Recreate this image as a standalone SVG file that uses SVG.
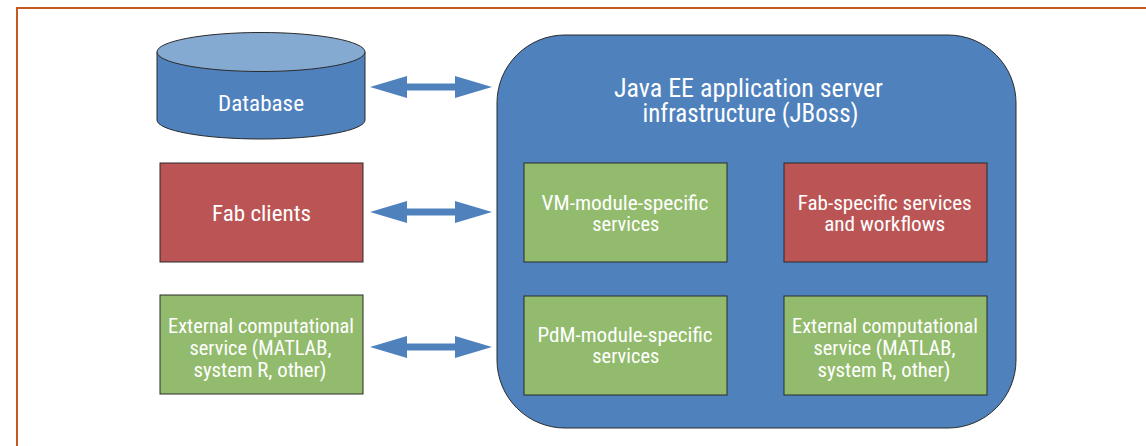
<svg xmlns="http://www.w3.org/2000/svg" width="1146" height="446" viewBox="0 0 1146 446">
<defs>
<style>
.t{font-family:"Liberation Sans Narrow","Roboto Condensed","Liberation Sans",sans-serif;fill:#fff;text-anchor:middle;font-size:21px}
.tb{font-size:25px}
.big{font-size:22px}
.box{stroke:#2b2b2b;stroke-width:1}
.g{fill:#93BB6D}
.r{fill:#BB5555}
.b{fill:#4F81BD}
.arr{fill:#4F81BD}
</style>
</defs>
<rect width="1146" height="446" fill="#fff"/>
<rect x="17" y="8" width="1140" height="450" fill="none" stroke="#C55A1E" stroke-width="2"/>
<g id="database">
<path class="box b" d="M157,52 L157,120 A104,19 0 0 0 365,120 L365,52"/>
<ellipse class="box" cx="261" cy="52" rx="104" ry="19.5" fill="#84AAD2"/>
<text class="t big" x="261" y="111" textLength="86" lengthAdjust="spacingAndGlyphs">Database</text>
</g>
<g id="fab-clients">
<rect class="box r" x="160" y="163" width="203" height="99"/>
<text class="t big" x="261.5" y="221" textLength="99" lengthAdjust="spacingAndGlyphs">Fab clients</text>
</g>
<g id="external-left">
<rect class="box g" x="160" y="295" width="203" height="99"/>
<text class="t" x="261" y="333" textLength="186" lengthAdjust="spacingAndGlyphs">External computational</text>
<text class="t" x="260.5" y="355" textLength="142" lengthAdjust="spacingAndGlyphs">service (MATLAB,</text>
<text class="t" x="260" y="377" textLength="133" lengthAdjust="spacingAndGlyphs">system R, other)</text>
</g>
<g id="server">
<rect class="box b" x="497" y="35" width="519" height="393" rx="68" ry="68"/>
<text class="t tb" x="748.5" y="96.5" textLength="269" lengthAdjust="spacingAndGlyphs">Java EE application server</text>
<text class="t tb" x="750.5" y="121.5" textLength="216" lengthAdjust="spacingAndGlyphs">infrastructure (JBoss)</text>
</g>
<g id="vm">
<rect class="box g" x="524" y="163" width="203" height="99"/>
<text class="t" x="625" y="209.5" textLength="167" lengthAdjust="spacingAndGlyphs">VM-module-specific</text>
<text class="t" x="625.8" y="231" textLength="67" lengthAdjust="spacingAndGlyphs">services</text>
</g>
<g id="fab-services">
<rect class="box r" x="784" y="163" width="203" height="99"/>
<text class="t" x="884.7" y="209.5" textLength="174" lengthAdjust="spacingAndGlyphs">Fab-specific services</text>
<text class="t" x="884.7" y="231" textLength="121" lengthAdjust="spacingAndGlyphs">and workflows</text>
</g>
<g id="pdm">
<rect class="box g" x="524" y="296" width="203" height="99"/>
<text class="t" x="625" y="341.5" textLength="175" lengthAdjust="spacingAndGlyphs">PdM-module-specific</text>
<text class="t" x="625.8" y="363" textLength="67" lengthAdjust="spacingAndGlyphs">services</text>
</g>
<g id="external-inner">
<rect class="box g" x="784" y="296" width="203" height="99"/>
<text class="t" x="885" y="333" textLength="186" lengthAdjust="spacingAndGlyphs">External computational</text>
<text class="t" x="884.5" y="355" textLength="142" lengthAdjust="spacingAndGlyphs">service (MATLAB,</text>
<text class="t" x="884" y="377" textLength="133" lengthAdjust="spacingAndGlyphs">system R, other)</text>
</g>
<g id="connectors">
<path class="arr" d="M370,87 L407,76 L407,83.5 L455,83.5 L455,76 L492,87 L455,98 L455,90.5 L407,90.5 L407,98 Z"/>
<path class="arr" d="M370,212 L407,201 L407,208.5 L455,208.5 L455,201 L492,212 L455,223 L455,215.5 L407,215.5 L407,223 Z"/>
<path class="arr" d="M370,347 L407,336 L407,343.5 L455,343.5 L455,336 L492,347 L455,358 L455,350.5 L407,350.5 L407,358 Z"/>
</g>
</svg>
